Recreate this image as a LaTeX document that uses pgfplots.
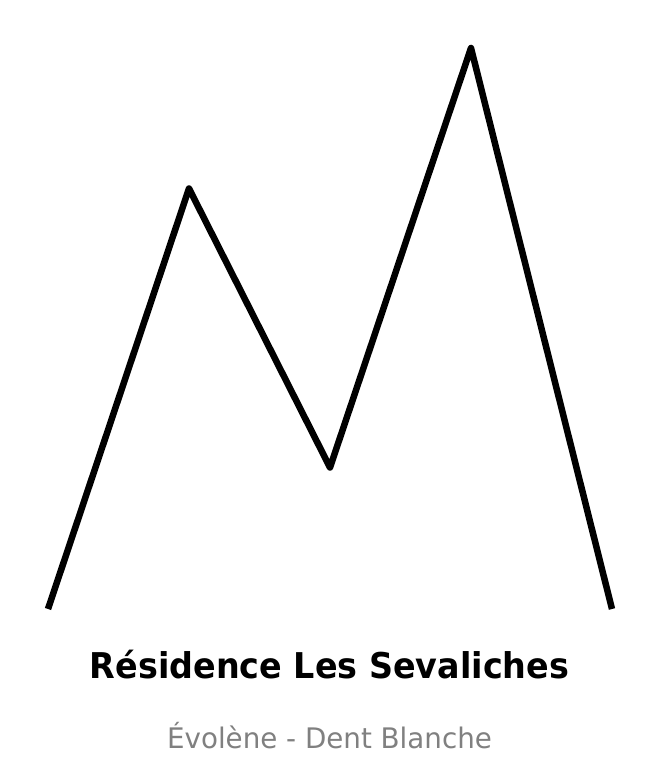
\documentclass[border=0pt]{standalone}
\usepackage{fontspec}
\setmainfont{DejaVu Sans}
\newfontfamily\titlefont[FakeStretch=0.94]{DejaVu Sans Bold}
\newfontfamily\subfont[FakeStretch=0.98]{DejaVu Sans}
\usepackage{pgfplots}
\pgfplotsset{compat=1.18}
\begin{document}
\begin{tikzpicture}[x=1pt,y=1pt]
\path[use as bounding box] (0,0) rectangle (660,774);
\begin{axis}[
  at={(0,0)},anchor=south west,
  width=660pt,height=774pt,scale only axis,
  xmin=0,xmax=660,ymin=0,ymax=774,
  hide axis,clip=false]
% mountain outline
\addplot[black,line width=6.5pt,line join=round,line cap=butt,no marks] coordinates {
  (48,165) (189,585.5) (330,306.5) (471,726) (612,165)};
\node[anchor=base,font=\fontsize{35.5}{40}\titlefont,text=black] at (axis cs:329.5,95.5) {Résidence Les Sevaliches};
\node[anchor=base,font=\fontsize{28.3}{34}\subfont,text={rgb,255:red,128;green,128;blue,128}] at (axis cs:329.5,25.5) {Évolène - Dent Blanche};
\end{axis}
\end{tikzpicture}
\end{document}
